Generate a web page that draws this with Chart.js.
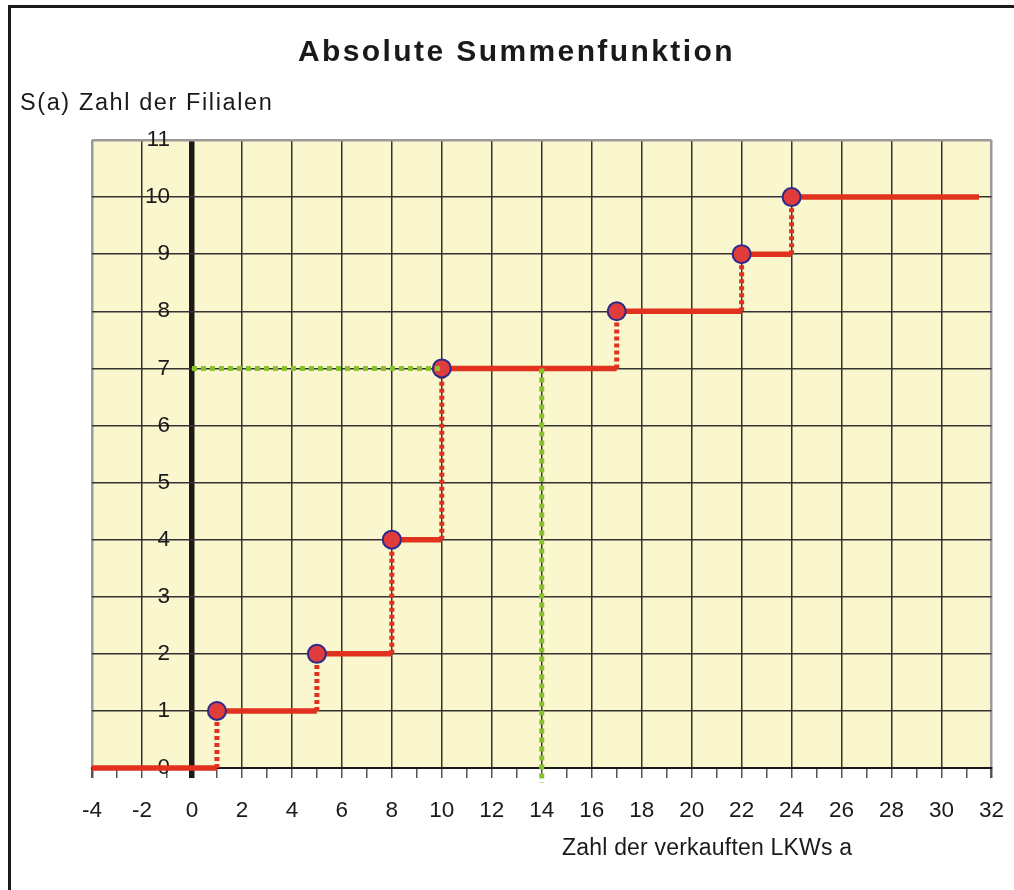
<!DOCTYPE html>
<html lang="de">
<head>
<meta charset="utf-8">
<title>Absolute Summenfunktion</title>
<script src="https://cdn.jsdelivr.net/npm/chart.js@4.4.1/dist/chart.umd.min.js"></script>
<style>
  html, body { margin: 0; padding: 0; background: #fff; }
  body {
    width: 1014px; height: 890px; position: relative; overflow: hidden;
    font-family: "Liberation Sans", Arial, sans-serif; color: #1a1a1a;
  }
  #frame {
    position: absolute; left: 8px; top: 5px; width: 1100px; height: 1000px;
    border-top: 3px solid #1a1a1a; border-left: 3px solid #1a1a1a;
  }
  #wrap { position: absolute; left: 0; top: 0; width: 1014px; height: 890px; }
  .lbl { position: absolute; white-space: nowrap; line-height: 1; }
  #title { left: 298px; top: 36px; font-size: 30px; font-weight: bold; letter-spacing: 2.4px; }
  #ytitle { left: 20px; top: 91px; font-size: 23.5px; letter-spacing: 1.6px; }
  #xtitle { left: 562px; top: 836px; font-size: 23px; letter-spacing: 0.2px; }
</style>
</head>
<body>
<div id="frame"></div>
<div id="wrap"><canvas id="chart"></canvas></div>
<div class="lbl" id="title">Absolute Summenfunktion</div>
<div class="lbl" id="ytitle">S(a) Zahl der Filialen</div>
<div class="lbl" id="xtitle">Zahl der verkauften LKWs a</div>

<script>
// jump positions a and the value S(a) right after each jump
const jumpA = [1, 5, 8, 10, 17, 22, 24];
const jumpS = [1, 2, 4, 7, 8, 9, 10];
const startA = -4;
const startS = 0;
const endA = 31.5;

// reading S(14) off the graph
const readA = 14;
const readS = 7;
const readFromA = 0;
const readToA = 10;
const readFloor = -0.26;

const X_MIN = -4, X_MAX = 32;
const Y_MIN = 0, Y_MAX = 11;
// y numbers sit just left of the a = 0 axis
const Y_LABELS_AT = -0.88;

const RED = '#e0321e';
const DOT_FILL = '#e03c3c';
const DOT_EDGE = '#2b2a8c';
const GREEN = '#84c42a';
const PLOT_BG = '#faf6cd';
const INK = '#1a1a1a';
const GRID = '#333333';
const EDGE = '#9a9a9a';

// horizontal pieces (solid) and the jumps between them (dotted)
const flat = [];
const rise = [];
let fromA = startA;
let level = startS;
jumpA.forEach((a, i) => {
  flat.push({ x: fromA, y: level }, { x: a, y: level }, { x: a, y: null });
  rise.push({ x: a, y: level }, { x: a, y: jumpS[i] }, { x: a, y: null });
  fromA = a;
  level = jumpS[i];
});
flat.push({ x: fromA, y: level }, { x: endA, y: level });

const marks = jumpA.map((a, i) => ({ x: a, y: jumpS[i] }));

const guide = [
  { x: readFromA, y: readS }, { x: readToA, y: readS }, { x: readToA, y: null },
  { x: readA, y: readS }, { x: readA, y: readFloor },
];

const plotFill = {
  id: 'plotFill',
  beforeDraw(chart) {
    const { ctx, chartArea: a } = chart;
    ctx.save();
    ctx.fillStyle = PLOT_BG;
    ctx.fillRect(a.left, a.top, a.right - a.left, a.bottom - a.top);
    ctx.restore();
  },
};

Chart.defaults.font.family = '"Liberation Sans", Arial, sans-serif';
Chart.defaults.color = INK;

const tickVal = c => (c.tick ? c.tick.value : null);

new Chart(document.getElementById('chart'), {
  type: 'scatter',
  data: {
    datasets: [
      {
        type: 'line',
        data: guide,
        borderColor: GREEN,
        borderWidth: 5,
        borderDash: [5, 4],
        pointRadius: 0,
        spanGaps: false,
        clip: false,
        order: 0,
      },
      {
        data: marks,
        pointRadius: 9,
        pointBackgroundColor: DOT_FILL,
        pointBorderColor: DOT_EDGE,
        pointBorderWidth: 2,
        clip: false,
        order: 1,
      },
      {
        type: 'line',
        data: flat,
        borderColor: RED,
        borderWidth: 5.5,
        pointRadius: 0,
        spanGaps: false,
        clip: false,
        order: 2,
      },
      {
        type: 'line',
        data: rise,
        borderColor: RED,
        borderWidth: 5,
        borderDash: [4, 3],
        pointRadius: 0,
        spanGaps: false,
        clip: false,
        order: 3,
      },
    ],
  },
  options: {
    responsive: true,
    maintainAspectRatio: false,
    animation: false,
    layout: { padding: { left: 92, right: 22, top: 140, bottom: 45.6 } },
    plugins: {
      legend: { display: false },
      tooltip: { enabled: false },
    },
    scales: {
      x: {
        type: 'linear',
        min: X_MIN,
        max: X_MAX,
        ticks: {
          stepSize: 1,
          autoSkip: false,
          maxRotation: 0,
          padding: 10,
          color: INK,
          // tall line box pushes the numbers down without widening the side padding
          font: { size: 22.5, lineHeight: 2.06 },
          callback: v => (v % 2 === 0 ? v : ''),
        },
        grid: {
          tickLength: 10,
          color: c => {
            const v = tickVal(c);
            if (v === 0) return INK;
            if (v === X_MIN || v === X_MAX) return EDGE;
            return v % 2 === 0 ? GRID : 'rgba(0,0,0,0)';
          },
          lineWidth: c => {
            const v = tickVal(c);
            if (v === 0) return 5.5;
            if (v === X_MIN || v === X_MAX) return 2.5;
            return 1.5;
          },
          tickColor: c => (tickVal(c) === 0 ? INK : '#555'),
        },
        border: { display: true, color: INK, width: 2 },
      },
      y: {
        type: 'linear',
        min: Y_MIN,
        max: Y_MAX,
        position: { x: Y_LABELS_AT },
        ticks: {
          stepSize: 1,
          color: INK,
          font: { size: 22.5 },
        },
        grid: {
          drawTicks: false,
          color: c => {
            const v = tickVal(c);
            if (v === Y_MAX) return EDGE;
            if (v === Y_MIN) return INK;
            return GRID;
          },
          lineWidth: c => (tickVal(c) === Y_MAX ? 2.5 : 1.5),
        },
        border: { display: false },
      },
    },
  },
  plugins: [plotFill],
});
</script>
</body>
</html>
